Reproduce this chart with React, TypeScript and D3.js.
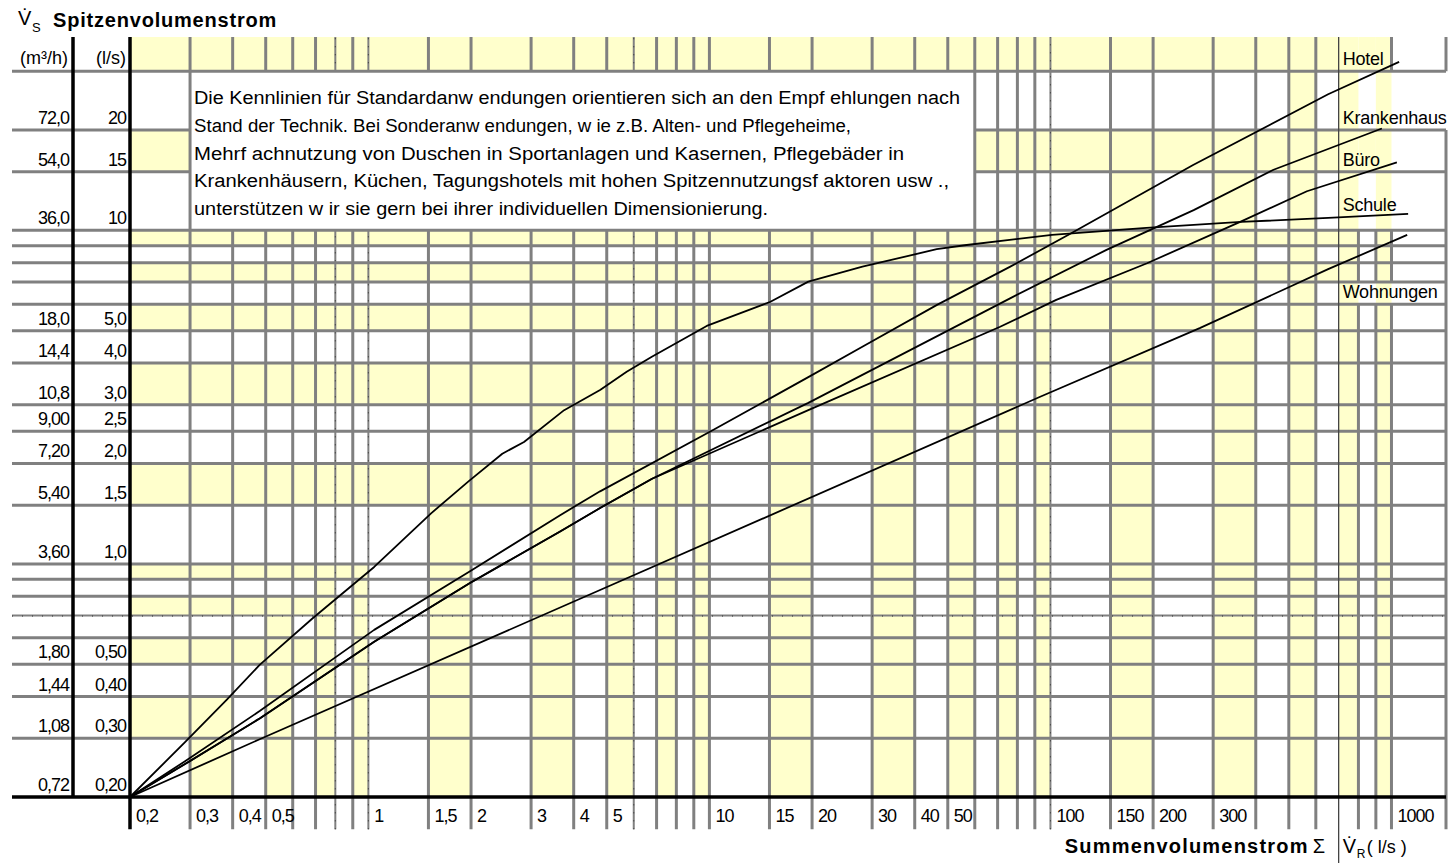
import React from 'react';
import * as d3 from 'd3';

// grid lines of the sheet, all values in l/s
const xGrid = [0.2, 0.3, 0.4, 0.5, 0.6, 0.7, 0.8, 0.9, 1, 1.5, 2, 3, 4, 5, 6, 7, 8, 9, 10, 15, 20, 30, 40, 50, 60, 70, 80, 90, 100, 150, 200, 300, 400, 500, 600, 700, 800, 900, 1000];
const xLabelled = [0.2, 0.3, 0.4, 0.5, 1, 1.5, 2, 3, 4, 5, 10, 15, 20, 30, 40, 50, 100, 150, 200, 300, 1000];
const yGrid = [0.2, 0.3, 0.4, 0.5, 0.6, 0.7, 0.8, 0.9, 1, 1.5, 2, 2.5, 3, 4, 5, 6, 7, 8, 9, 10, 15, 20, 30];
const yTickValues = [0.2, 0.3, 0.4, 0.5, 1, 1.5, 2, 2.5, 3, 4, 5, 10, 15, 20];
const yTickLs = ['0,20', '0,30', '0,40', '0,50', '1,0', '1,5', '2,0', '2,5', '3,0', '4,0', '5,0', '10', '15', '20'];
const yTickM3h = ['0,72', '1,08', '1,44', '1,80', '3,60', '5,40', '7,20', '9,00', '10,8', '14,4', '18,0', '36,0', '54,0', '72,0'];
const xEnd = 1445; // right border of the sheet
const yEnd = 38; // top of the header row

// yellow column bands: [from, to, shaded up to]
const shadedColumns = [
  [0.3, 0.4, 0.3], [0.5, 0.6, 0.7], [0.7, 0.8, 1], [0.9, 1, 1], [1.5, 2, 2], [3, 4, 4], [5, 6, 4],
  [7, 8, 4], [9, 10, 4], [15, 20, 4], [30, 40, 10], [50, 60, 10], [70, 80, 10], [90, 100, 10],
  [150, 200, 15], [300, 400, 15], [500, 600, 30], [700, 800, 30], [900, 1000, 30],
];
// yellow row bands: [from, to, shaded from x, to x]
const shadedRows = [
  [0.3, 0.4, 0.2, 0.4], [0.5, 0.6, 0.2, 0.8], [0.7, 0.8, 0.2, 0.8], [0.9, 1, 0.2, 1], [1.5, 2, 0.2, 10],
  [3, 4, 0.2, 80], [5, 6, 0.2, 400], [7, 8, 0.2, 700], [9, 10, 0.2, 700], [15, 20, 0.2, 1000], [30, 38, 0.2, 1000],
];

// peak flow V_S over summed flow ΣV_R (l/s)
const hotel = [
  [0.2, 0.2], [0.29, 0.256], [0.48, 0.362], [1.04, 0.634], [1.97, 0.945], [3.65, 1.4], [4.78, 1.65],
  [10.25, 2.52], [19.5, 3.63], [28, 4.47], [46.5, 5.98], [76, 7.77], [114, 9.75], [262, 15.7], [652, 25.6], [1053, 32],
];
const krankenhaus = [
  [0.2, 0.2], [0.29, 0.251], [0.48, 0.344], [1.04, 0.584], [1.98, 0.875], [3.65, 1.25], [4.78, 1.47], [6.79, 1.8],
  [19.5, 3.04], [77.9, 6.33], [146, 8.74], [263, 11.5], [451, 15.2], [937, 20.2],
];
const buero = [
  [0.2, 0.2], [0.29, 0.251], [0.48, 0.344], [1.04, 0.584], [1.98, 0.875], [3.65, 1.25], [4.78, 1.47], [6.79, 1.8],
  [19.5, 2.89], [71.2, 5.14], [104, 6.19], [192, 7.97], [360, 10.6], [565, 13.1], [1037, 16],
];
const schule = [
  [0.2, 0.2], [0.29, 0.292], [0.384, 0.391], [0.48, 0.498], [0.688, 0.688], [1.04, 0.979], [1.53, 1.42],
  [1.97, 1.77], [2.47, 2.14], [2.86, 2.32], [3.75, 2.89], [4.78, 3.32], [5.72, 3.77], [6.78, 4.18], [9.82, 5.17],
  [15.1, 6.11], [19.5, 7.02], [28.1, 7.78], [46.4, 8.78], [56.8, 9.04], [101, 9.69], [191, 10.17], [362, 10.6],
  [652, 10.9], [1119, 11.2],
];
const wohnungen = [
  [0.2, 0.2], [0.48, 0.298], [4.78, 0.835], [93.3, 3.17], [275, 5.1], [652, 7.65], [1112, 9.69],
];
const seriesNames = ['Hotel', 'Krankenhaus', 'Büro', 'Schule', 'Wohnungen'];
const seriesData = [hotel, krankenhaus, buero, schule, wohnungen];
// value (l/s) at whose foot each name sits in the label column
const seriesLabelRows = [30, 20, 15, 11, 6];

const note = [
  'Die Kennlinien für Standardanw endungen orientieren sich an den Empf ehlungen nach',
  'Stand der Technik. Bei Sonderanw endungen, w ie z.B. Alten- und Pflegeheime,',
  'Mehrf achnutzung von Duschen in Sportanlagen und Kasernen, Pflegebäder in',
  'Krankenhäusern, Küchen, Tagungshotels mit hohen Spitzennutzungsf aktoren usw .,',
  'unterstützen w ir sie gern bei ihrer individuellen Dimensionierung.',
];
const noteWidths = [766, 657, 710, 755, 574];

const font = "'Liberation Sans', Arial, Helvetica, sans-serif";
const grey = '#808080';
const yellow = '#ffffcc';

const segments = (lo: number, hi: number, gaps: number[][]) => {
  const out: number[][] = [];
  let start = lo;
  gaps.slice().sort((a, b) => a[0] - b[0]).forEach(([g0, g1]) => {
    if (g0 > start) out.push([start, g0]);
    start = Math.max(start, g1);
  });
  if (hi > start) out.push([start, hi]);
  return out;
};

export default function App() {
  const width = 1452;
  const height = 863;
  const labelLeft = 12;
  const unitDivider = 73;
  const xLabelFoot = 0.16;

  const x = d3.scaleLog().domain([0.2, xEnd]).range([130, 1446]);
  const y = d3.scaleLog().domain([0.2, yEnd]).range([797, 37]);

  const colBands = d3.pairs([...xGrid, xEnd]);
  const rowBands = d3.pairs([...yGrid, yEnd]);
  const isShaded = (c: number[], r: number[]) =>
    shadedRows.some(([a, b, f, t]) => a === r[0] && b === r[1] && c[0] >= f && c[1] <= t) ||
    shadedColumns.some(([a, b, upTo]) => a === c[0] && b === c[1] && r[1] <= upTo);
  const cells: { c: number[]; r: number[] }[] = [];
  colBands.forEach((c) => rowBands.forEach((r) => { if (isShaded(c, r)) cells.push({ c, r }); }));

  const dotted = [0.8, 1, 6, 100];
  const vGaps = (v: number) => {
    if (v > 0.3 && v < 60) return [[10, 30]];
    if (v === 800 || v === 900) return [[10, yEnd], [6, 7]];
    if (v === 1000) return [[10, 30], [6, 7]];
    if (v === xEnd) return [[20, 30]];
    return [];
  };
  const vLines = [...xGrid.filter((v) => v !== 0.2 && v !== 700), xEnd];
  const hLines = yGrid.filter((v) => v !== 0.2);
  const xLeftValue = x.invert(labelLeft);

  const line = d3.line<number[]>().x((d) => x(d[0])).y((d) => y(d[1]));
  const lab = (v: number) => String(v).replace('.', ',');
  const x700 = x(700);

  return (
    <svg width={width} height={height} style={{ position: 'absolute', left: 0, top: 0, background: '#fff' }} fontFamily={font}>
      <rect width={width} height={height} fill="#fff" />
      {cells.map(({ c, r }, i) => (
        <rect key={i} x={x(c[0])} y={y(r[1])} width={x(c[1]) - x(c[0])} height={y(r[0]) - y(r[1])} fill={yellow} />
      ))}
      <rect x={x(0.3)} y={y(30)} width={x(60) - x(0.3)} height={y(10) - y(30)} fill="#fff" />

      {vLines.map((v) =>
        segments(xLabelFoot, yEnd, vGaps(v)).map(([a, b], j) => (
          <g key={`v${v}-${j}`}>
            <line x1={x(v)} x2={x(v)} y1={y(a)} y2={y(b)} stroke={grey} strokeWidth={dotted.includes(v) ? 2 : 3} />
            {dotted.includes(v) && (
              <line x1={x(v)} x2={x(v)} y1={y(a)} y2={y(b)} stroke="#333" strokeWidth={1} strokeDasharray="1 7" />
            )}
          </g>
        ))
      )}
      {hLines.map((v) =>
        segments(xLeftValue, xEnd, v === 15 || v === 20 ? [[0.3, 60]] : []).map(([a, b], j) => (
          <g key={`h${v}-${j}`}>
            <line x1={x(a)} x2={x(b)} y1={y(v)} y2={y(v)} stroke={grey} strokeWidth={v === 0.7 ? 2 : 3} />
            {v === 0.7 && (
              <line x1={x(a)} x2={x(b)} y1={y(v) + 0.5} y2={y(v) + 0.5} stroke="#333" strokeWidth={1} strokeDasharray="1 9" />
            )}
          </g>
        ))
      )}
      <line x1={x700} x2={x700} y1={y(yEnd)} y2={height} stroke="#444" strokeWidth={1.3} />

      <line x1={labelLeft} x2={x(xEnd)} y1={y(0.2)} y2={y(0.2)} stroke="#000" strokeWidth={3.5} />
      <line x1={x(0.2)} x2={x(0.2)} y1={y(yEnd)} y2={y(xLabelFoot)} stroke="#000" strokeWidth={3.5} />
      <line x1={unitDivider} x2={unitDivider} y1={y(yEnd)} y2={y(0.2)} stroke="#000" strokeWidth={3.5} />

      {seriesData.map((d, i) => (
        <path key={seriesNames[i]} d={line(d) || ''} fill="none" stroke="#000" strokeWidth={1.8} strokeLinejoin="round" />
      ))}

      {note.map((t, i) => (
        <text key={i} x={x(0.3) + 4} y={y(30) + 32.7 + i * 27.8} fontSize={18} textLength={noteWidths[i]} lengthAdjust="spacingAndGlyphs" fill="#000">
          {t}
        </text>
      ))}

      {seriesNames.map((n, i) => (
        <text key={n} x={x700 + 4} y={y(seriesLabelRows[i]) - 6} fontSize={18} letterSpacing={-0.2} fill="#000">{n}</text>
      ))}

      {yTickValues.map((v, i) => (
        <g key={`yt${v}`} fontSize={18} letterSpacing={-1} textAnchor="end" fill="#000">
          <text x={unitDivider - 4} y={y(v) - 6}>{yTickM3h[i]}</text>
          <text x={x(0.2) - 4} y={y(v) - 6}>{yTickLs[i]}</text>
        </g>
      ))}
      <text x={unitDivider - 5} y={y(30) - 7} fontSize={18} textAnchor="end">(m³/h)</text>
      <text x={x(0.2) - 4} y={y(30) - 7} fontSize={18} textAnchor="end">(l/s)</text>

      {xLabelled.map((v) => (
        <text key={`xt${v}`} x={x(v) + 6} y={y(0.2) + 25} fontSize={18} letterSpacing={-1} fill="#000">{lab(v)}</text>
      ))}

      <text x={18} y={25} fontSize={20}>{'V\u0307'}</text>
      <text x={32} y={32} fontSize={13}>S</text>
      <text x={53} y={27} fontSize={20} fontWeight="bold" letterSpacing={0.8}>Spitzenvolumenstrom</text>

      <text x={x700 - 30} y={853} fontSize={20} fontWeight="bold" letterSpacing={1.2} textAnchor="end">Summenvolumenstrom</text>
      <text x={x700 - 26} y={853} fontSize={20}>Σ</text>
      <text x={x700 + 4} y={853} fontSize={20}>{'V\u0307'}</text>
      <text x={x700 + 18} y={858} fontSize={12}>R</text>
      <text x={x700 + 28} y={853} fontSize={18}>( l/s )</text>
    </svg>
  );
}
